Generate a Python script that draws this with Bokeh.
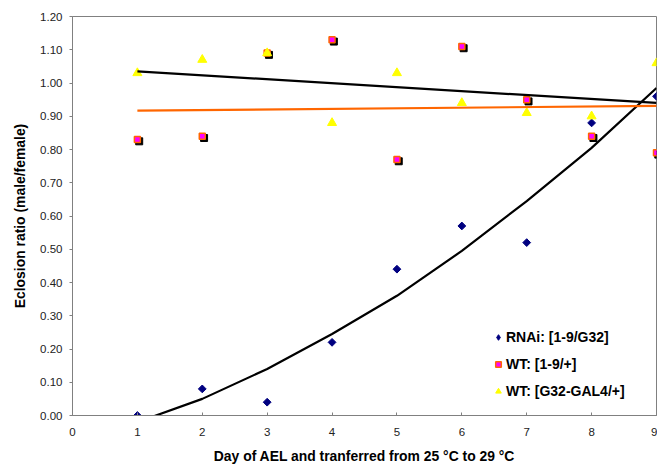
import math
from bokeh.plotting import figure
from bokeh.models import ColumnDataSource, FixedTicker, Legend, LegendItem, NumeralTickFormatter, Range1d
from bokeh.transform import dodge
from bokeh.embed import file_html
from bokeh.resources import INLINE

# ---- data ----
days = [1, 2, 3, 4, 5, 6, 7, 8, 9]
rnai_g32 = [0.00, 0.08, 0.04, 0.22, 0.44, 0.57, 0.52, 0.88, 0.96]
wt_19 = [0.83, 0.84, 1.09, 1.13, 0.77, 1.11, 0.95, 0.84, 0.79]
wt_g32_gal4 = [1.03, 1.07, 1.09, 0.88, 1.03, 0.94, 0.91, 0.90, 1.06]

# trend lines
rnai_trend = [-0.02, 0.05, 0.14, 0.245, 0.36, 0.495, 0.645, 0.805, 0.985]
lin_days = [1, 9]
wt_g32_trend = [1.035, 0.94]
wt_19_trend = [0.917, 0.931]

x_ticks = [0, 1, 2, 3, 4, 5, 6, 7, 8, 9]
y_ticks = [0.0, 0.1, 0.2, 0.3, 0.4, 0.5, 0.6, 0.7, 0.8, 0.9, 1.0, 1.1, 1.2]

x_title = "Day of AEL and tranferred from 25 °C to 29 °C"
y_title = "Eclosion ratio (male/female)"
labels = ["RNAi: [1-9/G32]", "WT: [1-9/+]", "WT: [G32-GAL4/+]"]

W, H = 657, 466
FL, FR, FT, FB = 72, 1, 16, 50

p = figure(width=W, height=H, output_backend="svg", toolbar_location=None,
           x_range=Range1d(0, 9), y_range=Range1d(0, 1.2),
           min_border_left=FL, min_border_right=FR, min_border_top=FT, min_border_bottom=FB)
p.background_fill_color = "white"
p.border_fill_color = "white"
p.outline_line_color = "#808080"
p.outline_line_width = 1
p.xgrid.visible = False
p.ygrid.visible = False

frame_w = W - FL - FR
frame_h = H - FT - FB
sx = 9.0 / frame_w
sy = 1.2 / frame_h

src = ColumnDataSource(dict(x=days, rnai=rnai_g32, wt19=wt_19, wtg=wt_g32_gal4))

p.scatter("x", "rnai", source=src, marker="square", size=5.5, angle=math.pi / 4,
          fill_color="#000080", line_color="#000080", line_width=1)
p.scatter(dodge("x", 1.8 * sx, range=p.x_range), dodge("wt19", -1.8 * sy, range=p.y_range),
          source=src, marker="square", size=7, fill_color="black", line_color="black")
r_wt19 = p.scatter("x", "wt19", source=src, marker="square", size=6,
                   fill_color="#FF00FF", line_color="#FF6600", line_width=1.5)
r_wtg = p.scatter("x", "wtg", source=src, marker="triangle", size=9,
                  fill_color="#FFFF00", line_color="#FFFF00")
# legend-only glyph for the diamond series (not drawn in the plot)
lg_rnai = p.scatter("x", "rnai", source=src, marker="diamond", size=9, visible=False,
                    fill_color="#000080", line_color="#000080", line_width=1)

p.line(days, rnai_trend, line_color="black", line_width=2.2)
p.line(lin_days, wt_g32_trend, line_color="black", line_width=2.2)
p.line(lin_days, wt_19_trend, line_color="#FF6600", line_width=2.2)

for ax in (p.xaxis[0], p.yaxis[0]):
    ax.axis_line_color = "#808080"
    ax.major_tick_line_color = "#808080"
    ax.minor_tick_line_color = None
    ax.major_label_text_font = "Liberation Sans"
    ax.major_label_text_font_size = "11.5px"
    ax.major_label_text_color = "#222222"
    ax.axis_label_text_font = "Liberation Sans"
    ax.axis_label_text_font_style = "bold"
    ax.axis_label_text_font_size = "13.9px"
    ax.axis_label_text_color = "black"

p.xaxis.ticker = FixedTicker(ticks=x_ticks)
p.xaxis.major_tick_in = 3
p.xaxis.major_tick_out = 0
p.xaxis.major_label_standoff = 12
p.xaxis.axis_label = x_title
p.xaxis.axis_label_standoff = 9

p.yaxis.ticker = FixedTicker(ticks=y_ticks)
p.yaxis.formatter = NumeralTickFormatter(format="0.00")
p.yaxis.major_tick_in = 0
p.yaxis.major_tick_out = 3
p.yaxis.major_label_standoff = 7
p.yaxis.axis_label = y_title
p.yaxis.axis_label_standoff = 9

legend = Legend(items=[LegendItem(label=labels[0], renderers=[lg_rnai]),
                       LegendItem(label=labels[1], renderers=[r_wt19]),
                       LegendItem(label=labels[2], renderers=[r_wtg])],
                location=(419, 14))
legend.label_text_font = "Liberation Sans"
legend.label_text_font_style = "bold"
legend.label_text_font_size = "14px"
legend.label_text_color = "black"
legend.border_line_color = None
legend.background_fill_alpha = 0
legend.inactive_fill_alpha = 0
legend.padding = 0
legend.margin = 0
legend.spacing = 7
legend.label_height = 20
legend.glyph_height = 20
legend.glyph_width = 14
legend.label_standoff = 1
p.add_layout(legend, "center")

open("out.html", "w").write(file_html(p, INLINE))
